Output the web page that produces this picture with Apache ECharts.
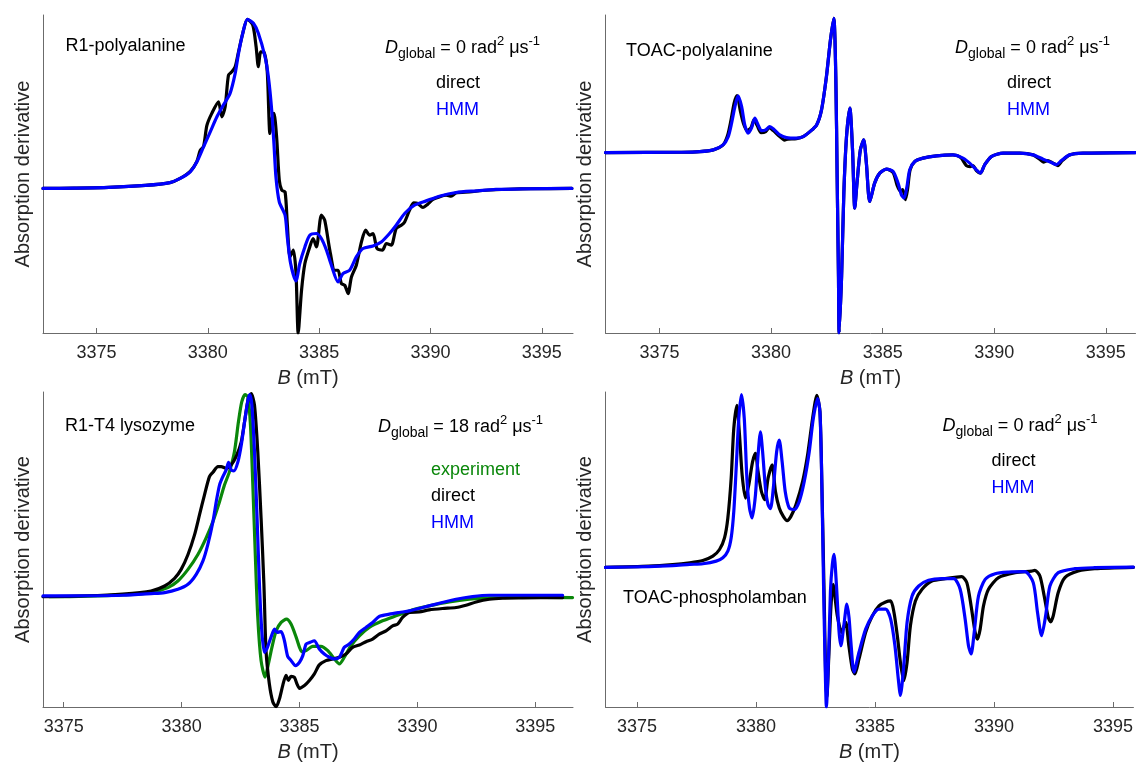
<!DOCTYPE html>
<html><head><meta charset="utf-8">
<script src="https://cdn.jsdelivr.net/npm/echarts@6/dist/echarts.min.js"></script>
<style>html,body{margin:0;padding:0;background:#fff}#c{width:1136px;height:763px}</style>
</head><body><div id="c"></div>
<script>
// x tick labels (mT)
const xTicks = [3375, 3380, 3385, 3390, 3395];

// Panel 1: R1-polyalanine  [B (mT), absorption derivative (a.u.)]
const r1PolyDirect = [[3372.6,0],[3374,0.3],[3375.56,1.0],[3377.2,3],[3378.3,5.8],[3378.76,10],[3379.21,17],[3379.51,27],[3379.66,38],[3379.81,42],[3379.96,63],[3380.18,75],[3380.48,86.6],[3380.63,71.6],[3380.78,81.6],[3380.93,113.3],[3381.08,116.6],[3381.23,121.6],[3381.38,136.6],[3381.57,155],[3381.78,169],[3382.02,163.3],[3382.17,141.6],[3382.27,121.6],[3382.38,136.6],[3382.53,136],[3382.67,116.6],[3382.79,55],[3382.87,68.3],[3382.97,75],[3383.09,51.6],[3383.21,8.3],[3383.32,-1.7],[3383.47,-3.4],[3383.57,-35],[3383.69,-68.4],[3383.84,-61.7],[3383.96,-84],[3384.06,-144.4],[3384.21,-101.7],[3384.36,-75],[3384.58,-58.4],[3384.73,-50],[3384.88,-58.4],[3385.10,-26.7],[3385.25,-31.7],[3385.48,-61.7],[3385.70,-81.7],[3385.85,-81.7],[3386.00,-95],[3386.15,-96.7],[3386.30,-105],[3386.45,-88.4],[3386.67,-76.7],[3386.90,-53.4],[3387.09,-41.7],[3387.27,-46.7],[3387.42,-45],[3387.60,-60],[3387.84,-61.7],[3388.02,-55],[3388.24,-56.7],[3388.46,-40],[3388.69,-36.7],[3388.84,-33.4],[3389.06,-21.7],[3389.24,-14.4],[3389.43,-15],[3389.66,-19],[3389.88,-15.7],[3390.11,-11],[3390.40,-8.4],[3390.70,-6.7],[3390.93,-7.7],[3391.15,-4.4],[3391.75,-3.4],[3392.5,-1.8],[3393.5,-0.8],[3394.5,-0.3],[3396.35,0]];
const r1PolyHMM = [[3372.6,0],[3374,0.3],[3375.56,1.0],[3377.2,3],[3378.3,5.8],[3378.76,10],[3379.21,16.6],[3379.51,26.6],[3379.81,41.6],[3380.11,56.6],[3380.41,71.6],[3380.70,83.3],[3381.0,95],[3381.23,115],[3381.38,135],[3381.57,155],[3381.78,169],[3382.05,165],[3382.27,155],[3382.57,131.6],[3382.72,111.6],[3382.87,78.3],[3382.97,45],[3383.06,11.6],[3383.21,-13.4],[3383.47,-26.7],[3383.57,-48.4],[3383.72,-75],[3383.96,-92.4],[3384.13,-75],[3384.36,-58.4],[3384.58,-46.7],[3384.88,-45],[3385.10,-50],[3385.33,-61.7],[3385.55,-76.7],[3385.85,-93.4],[3386.07,-85],[3386.37,-81.7],[3386.67,-68.4],[3386.97,-60],[3387.42,-57.4],[3387.79,-53.4],[3388.16,-45],[3388.46,-36.7],[3388.84,-25],[3389.28,-16.7],[3389.81,-12.4],[3390.40,-7.7],[3391.15,-4],[3392.05,-2.4],[3392.94,-1],[3394.14,-0.4],[3396.35,0]];

// Panel 2: TOAC-polyalanine
const toacPolyDirect = [[3372.58,0],[3376.0,0.3],[3376.81,0.9],[3377.41,2.7],[3377.85,7.7],[3378.05,17],[3378.2,32],[3378.35,50],[3378.48,57],[3378.62,42],[3378.75,30],[3378.92,22],[3379.1,25],[3379.24,33],[3379.38,27],[3379.55,20],[3379.76,21],[3379.92,25],[3380.1,22],[3380.39,16],[3380.6,12.5],[3380.75,13.5],[3381.14,14],[3381.44,16],[3381.74,21],[3382.04,27.7],[3382.26,42.7],[3382.48,76],[3382.66,112.7],[3382.81,134.4],[3382.90,76],[3382.96,-24],[3383.02,-124],[3383.05,-180.6],[3383.16,-124],[3383.26,-40.6],[3383.38,16],[3383.53,44.4],[3383.65,2.7],[3383.75,-55.6],[3383.85,-30.6],[3384.00,2.7],[3384.15,12.7],[3384.27,-10.6],[3384.42,-49],[3384.64,-30.6],[3384.87,-20.6],[3385.17,-16.6],[3385.47,-20],[3385.65,-33],[3385.8,-39],[3385.9,-37],[3386.02,-47],[3386.12,-36],[3386.23,-17.3],[3386.44,-9],[3386.81,-5.6],[3387.41,-3.3],[3388.15,-2.3],[3388.5,-5],[3388.75,-13],[3388.92,-14],[3389.05,-13],[3389.2,-18],[3389.38,-20.6],[3389.57,-12.3],[3389.87,-4],[3390.40,-0.6],[3391.14,-0.6],[3391.74,-2.3],[3392.05,-7],[3392.2,-9.5],[3392.4,-8],[3392.6,-10],[3392.85,-13],[3393.05,-8],[3393.38,-2.3],[3393.98,-0.6],[3396.33,0]];
const toacPolyHMM = [[3372.58,0],[3376.0,0.3],[3376.81,0.9],[3377.41,2.7],[3377.85,7.7],[3378.08,16],[3378.23,29.4],[3378.38,46],[3378.52,56.7],[3378.68,46],[3378.82,27.7],[3378.97,19.4],[3379.12,24.4],[3379.27,34.4],[3379.42,27.7],[3379.57,22],[3379.76,22.7],[3379.94,26],[3380.12,23.4],[3380.39,17.7],[3380.69,15],[3381.14,14.4],[3381.44,16],[3381.74,21],[3382.04,27.7],[3382.26,42.7],[3382.48,76],[3382.66,112.7],[3382.81,134.4],[3382.90,76],[3382.96,-24],[3383.02,-124],[3383.05,-180.6],[3383.16,-124],[3383.26,-40.6],[3383.38,16],[3383.53,44.4],[3383.65,2.7],[3383.75,-55.6],[3383.85,-30.6],[3384.00,2.7],[3384.15,12.7],[3384.27,-10.6],[3384.42,-49],[3384.64,-30.6],[3384.87,-20.6],[3385.17,-16.6],[3385.47,-19],[3385.69,-30.6],[3385.84,-42.3],[3385.96,-45.6],[3386.09,-34],[3386.21,-17.3],[3386.44,-9],[3386.81,-5.6],[3387.41,-3.3],[3388.15,-2.3],[3388.60,-5.6],[3388.90,-10.6],[3389.20,-17.3],[3389.38,-20.6],[3389.57,-12.3],[3389.87,-4],[3390.40,-0.6],[3391.14,-0.6],[3391.74,-2.3],[3392.19,-6.6],[3392.56,-10],[3392.79,-12],[3393.01,-8],[3393.38,-2.3],[3393.98,-0.6],[3396.33,0]];

// Panel 3: R1-T4 lysozyme
const r1T4Experiment = [[3374.4,0],[3376.0,0.5],[3377.5,1.8],[3378.71,4.2],[3379.42,9.2],[3379.84,15.8],[3380.27,27.5],[3380.69,42.5],[3381.04,59.2],[3381.33,75.8],[3381.61,95.8],[3381.82,112.5],[3382.03,125.8],[3382.24,145.8],[3382.41,175.8],[3382.55,195.8],[3382.69,203.2],[3382.81,200.8],[3382.92,172.5],[3383.02,112.5],[3383.12,45.8],[3383.23,-20.8],[3383.37,-64.2],[3383.54,-80.8],[3383.68,-67.5],[3383.83,-50.8],[3384.01,-34.2],[3384.22,-25.8],[3384.45,-22.5],[3384.64,-27.5],[3384.86,-40.8],[3385.00,-50.8],[3385.10,-55.2],[3385.28,-54.2],[3385.56,-49.8],[3385.91,-49.8],[3386.20,-54.2],[3386.48,-62.5],[3386.69,-67.5],[3386.90,-60.8],[3387.18,-49.2],[3387.54,-39.2],[3387.96,-30.8],[3388.52,-24.2],[3389.09,-19.2],[3389.80,-13.2],[3390.50,-9.2],[3391.35,-5.2],[3392.20,-2.5],[3393.05,-1.2],[3394.46,-0.5],[3396.58,-0.8]];
const r1T4Direct = [[3374.12,0],[3376,1],[3377.5,2.8],[3378.7,5.8],[3379.28,10.8],[3379.70,18.5],[3379.98,27.5],[3380.27,42.5],[3380.55,62.5],[3380.76,82.5],[3380.97,102.5],[3381.18,120.8],[3381.33,125.2],[3381.54,130.8],[3381.68,130.8],[3381.89,129.2],[3382.10,132.5],[3382.31,140.8],[3382.53,155.8],[3382.69,179.2],[3382.83,199.2],[3382.95,204.2],[3383.09,192.5],[3383.23,145.8],[3383.37,79.2],[3383.49,12.5],[3383.58,-54.2],[3383.72,-87.5],[3383.87,-105.8],[3384.01,-110.5],[3384.15,-102.5],[3384.29,-89],[3384.43,-79],[3384.53,-84],[3384.64,-80],[3384.78,-81],[3384.9,-88],[3385.00,-92],[3385.21,-89.2],[3385.42,-84.2],[3385.63,-77.5],[3385.84,-68.5],[3386.12,-64.2],[3386.41,-62.5],[3386.69,-60.8],[3386.97,-57.5],[3387.25,-50.8],[3387.54,-48.5],[3387.82,-45.2],[3388.10,-42.5],[3388.38,-37.5],[3388.67,-34.2],[3388.95,-29.2],[3389.16,-27.5],[3389.37,-20.8],[3389.66,-15.8],[3390.08,-15.2],[3390.50,-13.2],[3391.07,-11.8],[3391.64,-10.8],[3392.06,-8.5],[3392.49,-5.2],[3393.05,-2.5],[3393.62,-1.5],[3394.46,-1.2],[3396.16,-0.8]];
const r1T4HMM = [[3374.12,0.8],[3376.0,1.0],[3377.5,1.5],[3378.71,3.2],[3379.28,4.2],[3379.84,7.5],[3380.27,12.5],[3380.62,22.5],[3380.90,35.8],[3381.11,52.5],[3381.33,75.8],[3381.47,95.8],[3381.61,112.5],[3381.75,120.8],[3381.89,127.5],[3381.99,135.2],[3382.10,127.5],[3382.22,126.5],[3382.39,135.8],[3382.53,152.5],[3382.67,175.8],[3382.81,197.5],[3382.89,203.2],[3382.98,192.5],[3383.09,145.8],[3383.20,79.2],[3383.30,12.5],[3383.40,-34.2],[3383.51,-55.8],[3383.62,-52],[3383.80,-40],[3383.94,-32.5],[3384.05,-35.8],[3384.22,-35],[3384.36,-44.2],[3384.50,-60],[3384.64,-64],[3384.83,-69.2],[3385.00,-65.8],[3385.14,-59.2],[3385.28,-47.5],[3385.45,-45.8],[3385.63,-44.2],[3385.84,-52.5],[3386.05,-57.5],[3386.27,-60.8],[3386.48,-62.5],[3386.69,-60.8],[3386.90,-50.8],[3387.11,-47.5],[3387.32,-42.5],[3387.54,-35.8],[3387.82,-30.8],[3388.10,-25.8],[3388.38,-19.8],[3388.81,-17.5],[3389.23,-15.8],[3389.66,-14.2],[3390.22,-10.8],[3390.93,-6.5],[3391.64,-2.5],[3392.34,0.2],[3393.05,1.5],[3394.46,1.5],[3396.16,1.5]];

// Panel 4: TOAC-phospholamban
const toacPlnDirect = [[3373.68,0],[3375.5,1.2],[3376.5,2.8],[3377.22,4.7],[3377.77,7],[3378.19,11.3],[3378.47,18],[3378.68,29.7],[3378.82,49.7],[3378.96,89.7],[3379.07,139.7],[3379.20,163],[3379.31,133],[3379.42,93],[3379.56,69.7],[3379.70,83],[3379.86,106.3],[3379.98,114.7],[3380.09,96.3],[3380.23,76.3],[3380.37,68],[3380.51,89.7],[3380.68,103],[3380.82,76.3],[3380.98,59.7],[3381.15,51.3],[3381.31,47],[3381.47,51.3],[3381.68,63],[3381.96,86.3],[3382.17,113],[3382.38,149.7],[3382.56,173],[3382.69,156.3],[3382.77,83],[3382.87,-33.7],[3382.93,-110],[3382.98,-130],[3383.06,-90],[3383.15,-40],[3383.24,-17],[3383.42,-48.7],[3383.60,-65.3],[3383.77,-55],[3383.90,-78],[3384.05,-102],[3384.16,-107],[3384.33,-92],[3384.61,-65.3],[3384.89,-48.7],[3385.17,-38.7],[3385.45,-34.7],[3385.66,-33.7],[3385.80,-45.3],[3385.94,-68.7],[3386.07,-95.3],[3386.21,-113.7],[3386.35,-95.3],[3386.49,-58.7],[3386.70,-33.7],[3386.98,-22],[3387.39,-13.7],[3387.95,-11.3],[3388.44,-9.7],[3388.65,-9.3],[3388.86,-15.3],[3389.04,-38.7],[3389.21,-65.3],[3389.31,-72],[3389.42,-62],[3389.56,-38.7],[3389.77,-22],[3390.19,-10.3],[3390.89,-5.3],[3391.58,-3.7],[3391.72,-3],[3391.93,-8.7],[3392.11,-28.7],[3392.28,-50.3],[3392.38,-54.7],[3392.49,-48.7],[3392.70,-25.3],[3392.98,-10.3],[3393.54,-3.7],[3394.23,-1.3],[3395.86,0]];
const toacPlnHMM = [[3373.68,0],[3375.5,0.8],[3376.5,1.8],[3377.22,3],[3377.77,3.7],[3378.33,6.3],[3378.61,9.7],[3378.82,16.3],[3378.96,29.7],[3379.07,56.3],[3379.17,99.7],[3379.28,149.7],[3379.39,173.7],[3379.51,149.7],[3379.62,89.7],[3379.73,59.7],[3379.84,49.7],[3379.98,73],[3380.09,113],[3380.19,136.3],[3380.28,116.3],[3380.40,79.7],[3380.51,63],[3380.61,59],[3380.73,79.7],[3380.87,116.3],[3380.98,128],[3381.10,106.3],[3381.23,76.3],[3381.40,59.7],[3381.61,58],[3381.82,66.3],[3382.03,86.3],[3382.24,116.3],[3382.41,149.7],[3382.59,169.7],[3382.69,156.3],[3382.77,83],[3382.84,-17],[3382.91,-100.3],[3382.96,-140.3],[3383.05,-90.3],[3383.13,-23.7],[3383.21,3],[3383.28,13],[3383.38,-17],[3383.49,-63.7],[3383.57,-78.7],[3383.70,-57],[3383.82,-37],[3383.91,-50.3],[3383.98,-72],[3384.12,-105.3],[3384.33,-85.3],[3384.61,-62],[3384.89,-48.7],[3385.17,-42],[3385.45,-42],[3385.66,-52],[3385.84,-78.7],[3385.98,-112],[3386.07,-128.7],[3386.21,-98.7],[3386.35,-55.3],[3386.56,-28.7],[3386.84,-18.7],[3387.25,-13],[3387.82,-11.3],[3388.31,-11.3],[3388.58,-22],[3388.79,-52],[3388.93,-78.7],[3389.04,-87],[3389.17,-65.3],[3389.35,-28.7],[3389.63,-12],[3390.05,-6.3],[3390.61,-4.7],[3391.30,-4.3],[3391.65,-15.3],[3391.83,-45.3],[3392.00,-68.7],[3392.17,-48.7],[3392.35,-18.7],[3392.70,-5.3],[3393.40,-1.3],[3394.23,-0.3],[3395.86,0.3]];

const FONT = '"Liberation Sans", Arial, Helvetica, sans-serif';
const TXT = '#262626';
const AX = '#6b6b6b';
const BLACK = '#000000', BLUE = '#0000ff', GREEN = '#0a870a';

const panels = [
  {grid: {left: 43, top: 15, width: 530, height: 318}, xr: [3372.6, 3396.4], yr: [-144.4, 173.3],
   series: [[r1PolyDirect, BLACK], [r1PolyHMM, BLUE]]},
  {grid: {left: 605.5, top: 15, width: 530, height: 318}, xr: [3372.58, 3396.33], yr: [-180.6, 137.7],
   series: [[toacPolyDirect, BLACK], [toacPolyHMM, BLUE]]},
  {grid: {left: 43, top: 392, width: 530, height: 316}, xr: [3374.12, 3396.6], yr: [-110.8, 205.8],
   series: [[r1T4Experiment, GREEN], [r1T4Direct, BLACK], [r1T4HMM, BLUE]]},
  {grid: {left: 605.5, top: 392, width: 530, height: 316}, xr: [3373.68, 3395.86], yr: [-140.3, 176.3],
   series: [[toacPlnDirect, BLACK], [toacPlnHMM, BLUE]]}
];

const grid = [], xAxis = [], yAxis = [], series = [];
panels.forEach((p, i) => {
  grid.push(Object.assign({containLabel: false}, p.grid));
  xAxis.push({
    type: 'value', gridIndex: i, min: p.xr[0], max: p.xr[1],
    name: '{i|B} (mT)', nameLocation: 'middle', nameGap: 35,
    nameTextStyle: {fontSize: 20, color: TXT, fontFamily: FONT,
      rich: {i: {fontStyle: 'italic', fontSize: 20, color: TXT, fontFamily: FONT}}},
    axisLine: {show: true, onZero: false, lineStyle: {color: AX, width: 1}},
    axisTick: {show: true, inside: true, length: 5, customValues: xTicks, lineStyle: {color: AX}},
    axisLabel: {customValues: xTicks, fontSize: 18, color: TXT, fontFamily: FONT, margin: 11,
      formatter: v => String(Math.round(v))},
    splitLine: {show: false}
  });
  yAxis.push({
    type: 'value', gridIndex: i, min: p.yr[0], max: p.yr[1],
    name: 'Absorption derivative', nameLocation: 'middle', nameGap: 10, nameRotate: 90,
    nameTextStyle: {fontSize: 20, color: TXT, fontFamily: FONT},
    axisLine: {show: true, onZero: false, lineStyle: {color: AX, width: 1}},
    axisTick: {show: false}, axisLabel: {show: false}, splitLine: {show: false}
  });
  p.series.forEach(([data, color]) => {
    series.push({
      type: 'line', xAxisIndex: i, yAxisIndex: i, data: data,
      showSymbol: false, symbol: 'none', smooth: 0.25,
      lineStyle: {color: color, width: 3.2, join: 'round', cap: 'round'}, itemStyle: {color: color},
      animation: false, silent: true
    });
  });
});

function dLabel(x, y, val) {
  const base = {fontSize: 18, lineHeight: 26, verticalAlign: 'middle', fontFamily: FONT, fill: '#000', color: '#000'};
  return {
    type: 'text', x: x, y: y, silent: true,
    style: {
      text: '{d|D}{s|global}{n| = ' + val + ' rad}{p|2}{n| μs}{p|-1}',
      align: 'left', verticalAlign: 'middle', fontSize: 18, fontFamily: FONT, fill: '#000',
      rich: {
        d: Object.assign({}, base, {fontStyle: 'italic'}),
        n: base,
        s: {fontSize: 14, lineHeight: 14, verticalAlign: 'bottom', fontFamily: FONT, fill: '#000', color: '#000'},
        p: {fontSize: 13, lineHeight: 13, verticalAlign: 'top', fontFamily: FONT, fill: '#000', color: '#000'}
      }
    }
  };
}
function txt(x, y, s, color) {
  return {type: 'text', x: x, y: y, silent: true,
    style: {text: s, align: 'left', verticalAlign: 'middle', fontSize: 18, fontFamily: FONT, fill: color || '#000'}};
}

const graphic = [
  txt(65.5, 46, 'R1-polyalanine'), dLabel(385, 48, '0'), txt(436, 83, 'direct'), txt(436, 110, 'HMM', BLUE),
  txt(626, 51, 'TOAC-polyalanine'), dLabel(955, 48, '0'), txt(1007, 83, 'direct'), txt(1007, 110, 'HMM', BLUE),
  txt(65, 426, 'R1-T4 lysozyme'), dLabel(378, 427, '18'), txt(431, 470, 'experiment', GREEN), txt(431, 496, 'direct'), txt(431, 523, 'HMM', BLUE),
  dLabel(942.5, 426, '0'), txt(991.5, 461, 'direct'), txt(991.5, 488, 'HMM', BLUE), txt(623, 598, 'TOAC-phospholamban')
];

const chart = echarts.init(document.getElementById('c'), null, {renderer: 'canvas'});
chart.setOption({
  animation: false, backgroundColor: '#ffffff',
  grid: grid, xAxis: xAxis, yAxis: yAxis, series: series, graphic: graphic
});
</script></body></html>
